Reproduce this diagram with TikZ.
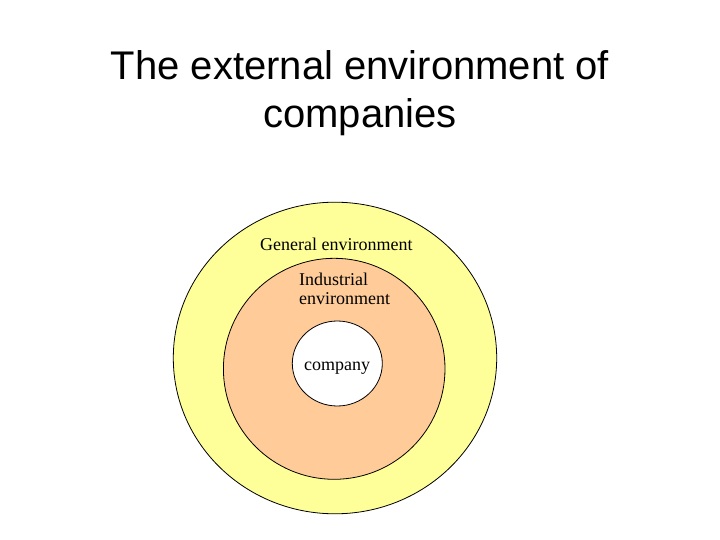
\documentclass[tikz,border=0pt]{standalone}
\usepackage{fontspec}
\setmainfont{Liberation Serif}
\newfontfamily\titlefont{Liberation Sans}
\definecolor{genyellow}{HTML}{FFFF99}
\definecolor{indorange}{HTML}{FFCC99}
\begin{document}
\begin{tikzpicture}[x=1pt, y=-1pt, line join=round, line cap=round,
  ring/.style={draw=black, line width=0.8pt},
  title/.style={anchor=base, font=\titlefont\fontsize{40}{48}\selectfont},
  label/.style={anchor=base west, inner sep=0pt, font=\fontsize{18}{20}\selectfont}]
	\useasboundingbox (0,0) rectangle (720,540);
	% rings, outside in
	\draw[ring, fill=genyellow] (335,358) ellipse [x radius=161.7, y radius=155.8];
	\draw[ring, fill=indorange] (334.2,368.8) ellipse [x radius=110.8, y radius=110.5];
	\draw[ring, fill=white] (337.3,363.5) ellipse [x radius=45, y radius=42.5];
	% title
	\node[title] (title1) at (360,79.5) {The external environment of};
	\node[title] (title2) at (360,127.5) {companies};
	% labels
	\node[label] (general) at (260,250.5) {General environment};
	\node[label] (industrial) at (299,285) {Industrial};
	\node[label] (industrial2) at (299,304.5) {environment};
	\node[label, anchor=base] (company) at (337,370) {company};
\end{tikzpicture}
\end{document}
